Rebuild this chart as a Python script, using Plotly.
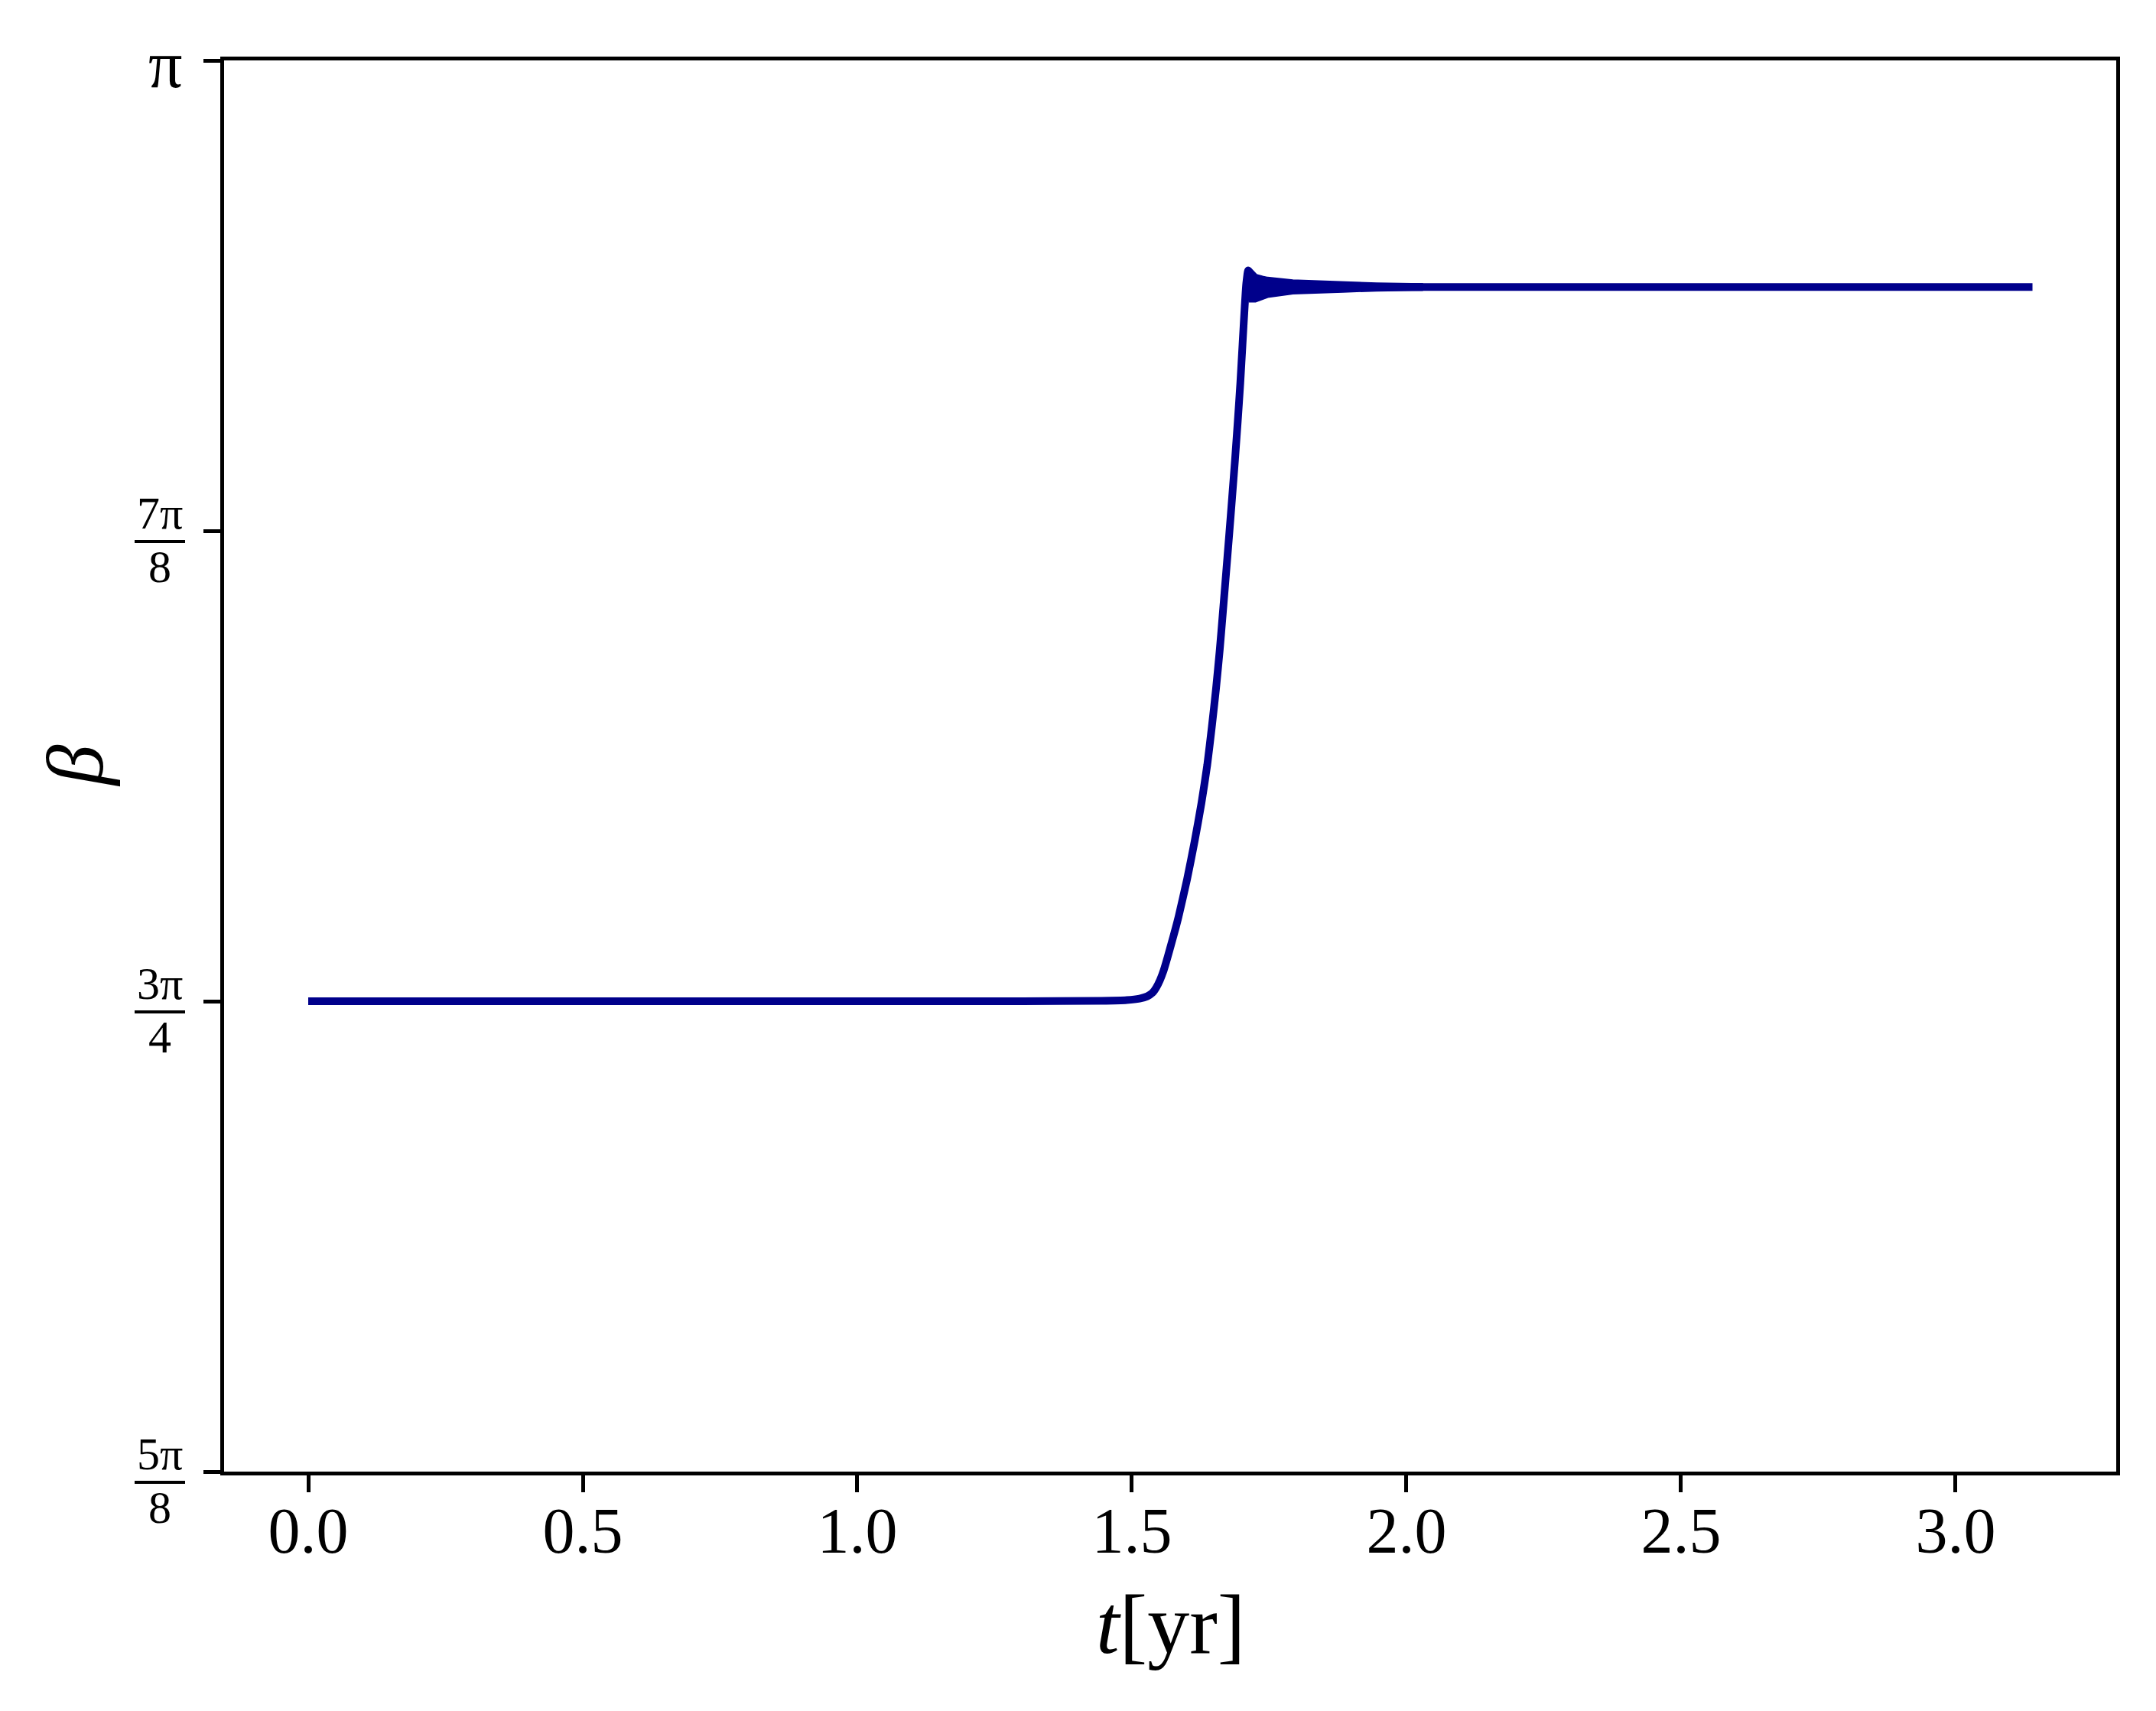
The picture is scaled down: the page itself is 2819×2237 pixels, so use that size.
import numpy as np
import plotly.graph_objects as go

# ---- data (t in years, beta in units of pi) ----
t_yr = [0.0, 0.5, 1.0, 1.30, 1.4443, 1.4907, 1.5139, 1.5279, 1.5372, 1.5442,
        1.5511, 1.5581, 1.5650, 1.5713, 1.5801, 1.5850, 1.6003, 1.6142, 1.6267,
        1.6372, 1.6456, 1.6532, 1.6599, 1.6657, 1.6714, 1.6770, 1.6825, 1.6878,
        1.6928, 1.6974, 1.7014, 1.7054, 1.7082, 1.7117, 1.7187, 1.7300, 2.0000,
        2.5000, 3.1400]
beta_over_pi = [0.7500, 0.7500, 0.7500, 0.7500, 0.7501, 0.7503, 0.7507, 0.7513,
                0.7522, 0.7536, 0.7556, 0.7583, 0.7617, 0.7650, 0.7697, 0.7725,
                0.7823, 0.7925, 0.8027, 0.8128, 0.8230, 0.8331, 0.8433, 0.8534,
                0.8636, 0.8737, 0.8839, 0.8940, 0.9042, 0.9143, 0.9245, 0.9346,
                0.9407, 0.9442, 0.9398, 0.9398, 0.9398, 0.9398, 0.9398]

# envelope of the fast oscillation right after the jump (units of pi)
t_env = [1.7117, 1.7187, 1.7242, 1.7368, 1.7465, 1.7925, 1.8384, 1.8844, 1.9457, 2.0300]
env_hi = [0.9442, 0.9430, 0.9423, 0.9418, 0.9415, 0.9408, 0.9405, 0.9403, 0.9400, 0.9398]
env_lo = [0.9427, 0.9367, 0.9367, 0.9375, 0.9379, 0.9388, 0.9392, 0.9393, 0.9396, 0.9398]

x_tickvals = [0.0, 0.5, 1.0, 1.5, 2.0, 2.5, 3.0]
y_tick_fracs = [(5, 8), (3, 4), (7, 8), (1, 1)]

beta = [b * np.pi for b in beta_over_pi]
hi = [b * np.pi for b in env_hi]
lo = [b * np.pi for b in env_lo]
y_min, y_max = 5 * np.pi / 8, np.pi

FONT = "Liberation Serif"
COLOR = "#00008b"

fig = go.Figure()
fig.add_trace(go.Scatter(x=t_env, y=hi, mode="lines",
                         line=dict(color=COLOR, width=10),
                         hoverinfo="skip", showlegend=False))
fig.add_trace(go.Scatter(x=t_env, y=lo, mode="lines", fill="tonexty",
                         fillcolor=COLOR, line=dict(color=COLOR, width=10),
                         hoverinfo="skip", showlegend=False))
fig.add_trace(go.Scatter(x=t_yr, y=beta, mode="lines",
                         line=dict(color=COLOR, width=10, shape="spline",
                                   smoothing=0.6),
                         hoverinfo="skip", showlegend=False))

annotations = []
shapes = []
for num, den in y_tick_fracs:
    val = num * np.pi / den
    pf = (val - y_min) / (y_max - y_min)
    if den == 1:
        annotations.append(dict(xref="paper", yref="paper", x=0, y=pf,
                                text="π", showarrow=False, xanchor="center",
                                yanchor="middle", xshift=-77, yshift=-5,
                                font=dict(family=FONT, size=88, color="black")))
    else:
        annotations.append(dict(xref="paper", yref="paper", x=0, y=pf,
                                text=f"{num}π", showarrow=False, xanchor="center",
                                yanchor="bottom", xshift=-84, yshift=-12,
                                font=dict(family=FONT, size=60, color="black")))
        annotations.append(dict(xref="paper", yref="paper", x=0, y=pf,
                                text=f"{den}", showarrow=False, xanchor="center",
                                yanchor="top", xshift=-84, yshift=-12,
                                font=dict(family=FONT, size=60, color="black")))
        shapes.append(dict(type="line", xref="paper", yref="paper",
                           xsizemode="pixel", ysizemode="pixel",
                           xanchor=0, yanchor=pf, x0=-117, x1=-51, y0=-14, y1=-14,
                           line=dict(color="black", width=4)))

# axis titles
annotations.append(dict(xref="paper", yref="paper", x=0.5, y=0,
                        text="<i>t</i>[yr]", showarrow=False, xanchor="center",
                        yanchor="middle", yshift=-200,
                        font=dict(family=FONT, size=110, color="black")))
annotations.append(dict(xref="paper", yref="paper", x=0, y=0.5,
                        text="<i>β</i>", showarrow=False, xanchor="center",
                        yanchor="middle", xshift=-195, textangle=-90,
                        font=dict(family=FONT, size=106, color="black")))

fig.update_layout(
    width=2811, height=2221,
    margin=dict(l=285, r=52, t=71, b=305),
    paper_bgcolor="white", plot_bgcolor="white",
    annotations=annotations, shapes=shapes,
    xaxis=dict(range=[-0.1532, 3.2925], tickvals=x_tickvals,
               ticktext=[f"{v:.1f}" for v in x_tickvals],
               ticks="outside", ticklen=22, tickwidth=5, tickcolor="black",
               ticklabelstandoff=-22,
               showline=True, linewidth=5, linecolor="black", mirror=True,
               showgrid=False, zeroline=False,
               tickfont=dict(family=FONT, size=84, color="black")),
    yaxis=dict(range=[y_min, y_max],
               tickvals=[n * np.pi / d for n, d in y_tick_fracs],
               ticktext=["" for _ in y_tick_fracs],
               ticks="outside", ticklen=22, tickwidth=5, tickcolor="black",
               showline=True, linewidth=5, linecolor="black", mirror=True,
               showgrid=False, zeroline=False),
)

fig.write_html("out.html")
